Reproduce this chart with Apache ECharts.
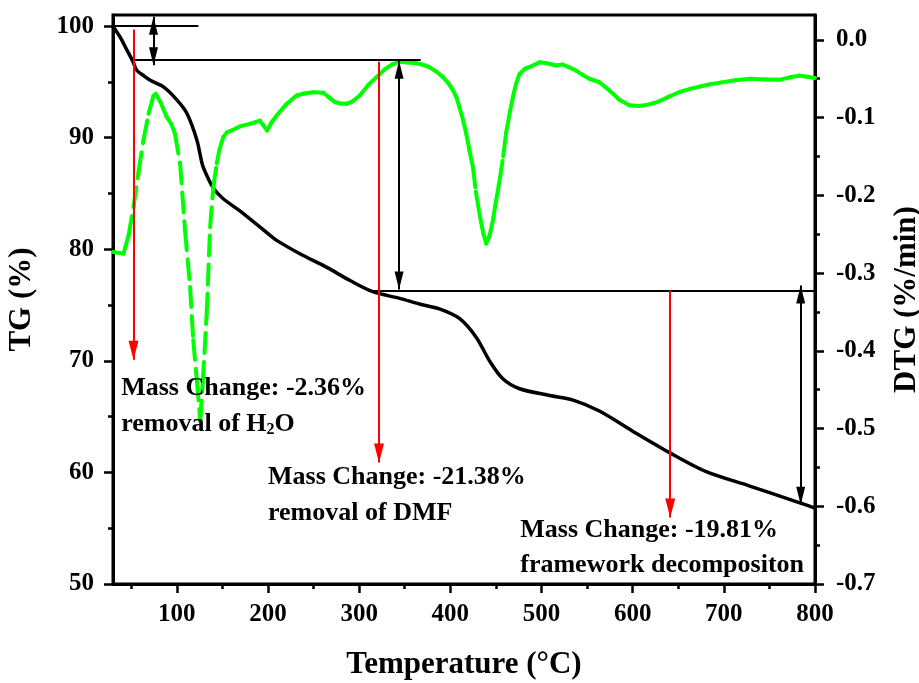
<!DOCTYPE html>
<html>
<head>
<meta charset="utf-8">
<script src="https://cdn.jsdelivr.net/npm/echarts@6/dist/echarts.min.js"></script>
<style>html,body{margin:0;padding:0;background:#fff}#c{width:919px;height:683px}</style>
</head>
<body>
<div id="c"></div>
<script>
// ---------- data ----------
const tgTemperature = [30, 38, 45, 52, 56, 63, 70.8, 85.3, 100, 111, 122, 128, 133, 140, 150, 173, 200, 209.5, 235, 264, 290, 315, 344.5, 366, 388, 410, 428.5, 443, 457.6, 476, 509, 534, 563.5, 600, 640, 680, 727.7, 782.5, 800];
const tgValues = [100, 99.0, 97.9, 96.8, 96.05, 95.6, 95.15, 94.55, 93.4, 92.2, 89.8, 87.6, 86.6, 85.5, 84.6, 83.2, 81.4, 80.8, 79.6, 78.4, 77.2, 76.2, 75.6, 75.1, 74.66, 73.8, 72.1, 70.0, 68.4, 67.5, 66.9, 66.5, 65.5, 63.7, 61.8, 60.1, 58.8, 57.3, 56.8];

const dtgTemperature = [30, 41.5, 47, 52.5, 58, 63.4, 69, 74.4, 77, 82, 89, 94, 98, 103.6, 109, 114.6, 118, 122, 125.7, 128.5, 132.8, 136.5, 140, 143.8, 147, 151, 155, 160, 170, 180, 191, 195, 199, 204, 209.5, 220, 231.4, 240, 249.6, 260.5, 267, 273.3, 280, 286, 293, 300.7, 310, 319, 328, 337, 345, 353, 362.8, 370, 377, 385, 392, 398, 403, 407, 410, 414, 417.5, 421, 424.8, 428, 432, 436, 439.4, 443, 446.7, 450, 454, 458, 461, 465, 468.6, 472, 476, 482, 490.5, 497.8, 506, 516, 523, 530, 538, 545, 552.5, 563.5, 574.5, 585.5, 596.4, 607.3, 618.2, 629, 640, 651.5, 663, 674, 685, 696, 712.6, 729, 745.6, 761, 773, 782.6, 790, 800];
const dtgValues = [-0.273, -0.275, -0.252, -0.215, -0.17, -0.129, -0.095, -0.072, -0.0695, -0.08, -0.0995, -0.108, -0.121, -0.159, -0.245, -0.318, -0.386, -0.438, -0.49, -0.44, -0.352, -0.241, -0.19, -0.159, -0.14, -0.125, -0.119, -0.1166, -0.111, -0.108, -0.104, -0.11, -0.1166, -0.106, -0.0973, -0.083, -0.0716, -0.069, -0.0673, -0.068, -0.074, -0.080, -0.082, -0.0823, -0.079, -0.0716, -0.058, -0.048, -0.038, -0.031, -0.028, -0.029, -0.030, -0.032, -0.035, -0.041, -0.048, -0.056, -0.065, -0.075, -0.0866, -0.103, -0.121, -0.142, -0.164, -0.195, -0.224, -0.248, -0.262, -0.252, -0.232, -0.208, -0.181, -0.15, -0.121, -0.095, -0.0738, -0.057, -0.0437, -0.037, -0.033, -0.0288, -0.030, -0.033, -0.0317, -0.035, -0.0395, -0.045, -0.050, -0.0545, -0.065, -0.077, -0.084, -0.085, -0.083, -0.079, -0.073, -0.067, -0.063, -0.060, -0.057, -0.055, -0.052, -0.050, -0.051, -0.0514, -0.048, -0.046, -0.047, -0.049];

const xTickLabels = [100, 200, 300, 400, 500, 600, 700, 800];
const xMinorTicks = [50, 150, 250, 350, 450, 550, 650, 750];
const tgTickLabels = [50, 60, 70, 80, 90, 100];
const tgMinorTicks = [55, 65, 75, 85, 95];
const dtgTickLabels = [-0.7, -0.6, -0.5, -0.4, -0.3, -0.2, -0.1, 0.0];
const dtgMinorTicks = [-0.65, -0.55, -0.45, -0.35, -0.25, -0.15, -0.05];

// annotation guides (temperature, TG %)
const guideLines = [
  [[30, 100], [123.7, 100]],
  [[52, 96.95], [367.5, 96.95]],
  [[315, 76.3], [800, 76.3]]
];
const doubleArrows = [
  [[74.4, 100.84], [74.4, 96.5]],
  [[343.8, 96.9], [343.8, 76.4]],
  [[784.3, 76.75], [784.3, 57.1]]
];
const redArrows = [
  [[52.5, 99.7], [52.5, 70.1]],
  [[321.8, 96.8], [321.8, 60.9]],
  [[641.2, 76.3], [641.2, 55.95]]
];
const notes = [
  {at: [39, 67.5], text: 'Mass Change: -2.36%'},
  {at: [39, 64.36], text: 'removal of H{sub|2}O'},
  {at: [200, 59.6], text: 'Mass Change: -21.38%'},
  {at: [200, 56.3], text: 'removal of DMF'},
  {at: [476.7, 54.8], text: 'Mass Change: -19.81%'},
  {at: [476.7, 51.66], text: 'framework decompositon'}
];

// ---------- chart ----------
const FONT = "'Times New Roman', 'Liberation Serif', serif";
const chart = echarts.init(document.getElementById('c'), null, {renderer: 'canvas'});

const lblStyle = {color: '#000', fontFamily: FONT, fontWeight: 'bold', fontSize: 25};
const nameStyle = {color: '#000', fontFamily: FONT, fontWeight: 'bold', fontSize: 31};

function pairs(list, opts) {
  return list.map(([a, b]) => [
    Object.assign({coord: a}, opts.start || {}),
    Object.assign({coord: b}, opts.end || {})
  ]);
}
const blackHead = {symbol: 'triangle', symbolSize: [9, 18], symbolOffset: [0, '50%']};
const redHead = {symbol: 'triangle', symbolSize: [10, 19], symbolOffset: [0, '50%']};

const markData = []
  .concat(pairs(guideLines, {start: {symbol: 'none'}, end: {symbol: 'none'}}).map(p => { p[0].lineStyle = {color: '#000', width: 2, type: 'solid'}; return p; }))
  .concat(pairs(doubleArrows, {start: blackHead, end: blackHead}).map(p => { p[0].lineStyle = {color: '#000', width: 2, type: 'solid'}; return p; }))
  .concat(pairs(redArrows, {start: {symbol: 'none'}, end: redHead}).map(p => { p[0].lineStyle = {color: '#ff0000', width: 2, type: 'solid'}; return p; }));

const option = {
  animation: false,
  backgroundColor: '#fff',
  grid: {left: 113, right: 104, top: 15, bottom: 99, containLabel: false, outerBoundsMode: 'none', show: true, borderColor: '#000', borderWidth: 3},
  xAxis: [
    {
      type: 'value', min: 30, max: 800, position: 'bottom',
      name: 'Temperature (°C)', nameLocation: 'middle', nameGap: 65, nameTextStyle: nameStyle,
      axisLine: {show: true, onZero: false, lineStyle: {color: '#000', width: 3}},
      axisTick: {show: true, inside: false, length: 9, lineStyle: {color: '#000', width: 2.5}, customValues: xTickLabels},
      axisLabel: Object.assign({margin: 18, customValues: xTickLabels}, lblStyle),
      splitLine: {show: false}
    },
    {
      type: 'value', min: 30, max: 800, position: 'bottom', gridIndex: 0,
      axisLine: {show: false, onZero: false},
      axisTick: {show: true, inside: false, length: 5, lineStyle: {color: '#000', width: 2.5}, customValues: xMinorTicks},
      axisLabel: {show: false}, splitLine: {show: false}
    }
  ],
  yAxis: [
    {
      type: 'value', min: 50, max: 101, position: 'left',
      name: 'TG (%)', nameLocation: 'middle', nameGap: 76, nameRotate: 90, nameTextStyle: nameStyle,
      axisLine: {show: true, onZero: false, lineStyle: {color: '#000', width: 3}},
      axisTick: {show: true, inside: false, length: 9, lineStyle: {color: '#000', width: 2.5}, customValues: tgTickLabels},
      axisLabel: Object.assign({margin: 19, customValues: tgTickLabels}, lblStyle),
      splitLine: {show: false}
    },
    {
      type: 'value', min: -0.7, max: 0.032, position: 'right',
      name: 'DTG (%/min)', nameLocation: 'middle', nameGap: 76, nameRotate: 90, nameTextStyle: nameStyle,
      axisLine: {show: true, onZero: false, lineStyle: {color: '#000', width: 3}},
      axisTick: {show: true, inside: false, length: 9, lineStyle: {color: '#000', width: 2.5}, customValues: dtgTickLabels},
      axisLabel: Object.assign({margin: 21, customValues: dtgTickLabels, formatter: v => v.toFixed(1)}, lblStyle),
      splitLine: {show: false}
    },
    {
      type: 'value', min: 50, max: 101, position: 'left',
      axisLine: {show: false, onZero: false},
      axisTick: {show: true, inside: false, length: 5, lineStyle: {color: '#000', width: 2.5}, customValues: tgMinorTicks},
      axisLabel: {show: false}, splitLine: {show: false}
    },
    {
      type: 'value', min: -0.7, max: 0.032, position: 'right',
      axisLine: {show: false, onZero: false},
      axisTick: {show: true, inside: false, length: 5, lineStyle: {color: '#000', width: 2.5}, customValues: dtgMinorTicks},
      axisLabel: {show: false}, splitLine: {show: false}
    }
  ],
  series: [
    {
      name: 'TG', type: 'line', xAxisIndex: 0, yAxisIndex: 0, z: 2,
      data: tgTemperature.map((t, i) => [t, tgValues[i]]),
      showSymbol: false, symbol: 'none', smooth: 0.3,
      lineStyle: {color: '#000', width: 3.5},
      emphasis: {disabled: true},
      markLine: {
        silent: true, animation: false, z: 5,
        label: {show: false}, emphasis: {disabled: true},
        data: markData
      }
    },
    {
      name: 'DTG', type: 'custom', xAxisIndex: 0, yAxisIndex: 1, z: 3,
      data: dtgTemperature.map((t, i) => [t, dtgValues[i]]),
      encode: {x: 0, y: 1},
      silent: true,
      renderItem: function (params, api) {
        const i = params.dataIndex;
        if (i >= dtgTemperature.length - 1) return null;
        const p1 = api.coord([dtgTemperature[i], dtgValues[i]]);
        const p2 = api.coord([dtgTemperature[i + 1], dtgValues[i + 1]]);
        return {
          type: 'line',
          shape: {x1: p1[0], y1: p1[1], x2: p2[0], y2: p2[1]},
          style: {stroke: '#00ff00', lineWidth: 4, lineDash: [20, 9], lineCap: 'round', fill: null}
        };
      }
    }
  ]
};
chart.setOption(option);

const graphics = notes.map(n => {
  const p = chart.convertToPixel({xAxisIndex: 0, yAxisIndex: 0}, n.at);
  return {
    type: 'text', x: p[0], y: p[1], z: 10, silent: true,
    style: {
      text: n.text, fill: '#000',
      fontFamily: FONT, fontWeight: 'bold', fontSize: 26,
      verticalAlign: 'middle', align: 'left',
      rich: {sub: {fontFamily: FONT, fontWeight: 'bold', fontSize: 16, padding: [13, 0, 0, 0], fill: '#000'}}
    }
  };
});
chart.setOption({graphic: graphics});
</script>
</body>
</html>
